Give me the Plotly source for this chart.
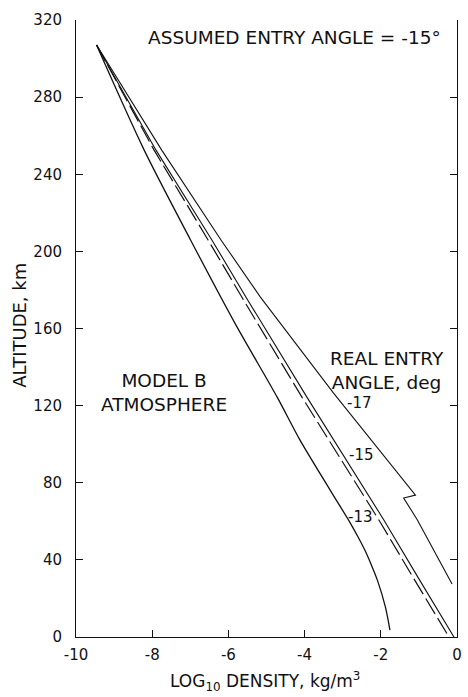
import plotly.graph_objects as go

# Density profiles recovered for different real entry angles (assumed angle = -15 deg)
alt_13 = [307, 252.5, 205.8, 162.8, 124.4, 102.1, 76.2, 59.1, 52, 45.1, 37, 29.5, 15.6, 3.6]
rho_13 = [-9.46, -8.21, -6.99, -5.83, -4.72, -4.12, -3.33, -2.80, -2.60, -2.42, -2.24,
          -2.09, -1.88, -1.76]

alt_15 = [307, 252.5, 205.8, 174.7, 124.4, 91.8, 60.7, 29.5, 0]
rho_15 = [-9.46, -7.90, -6.43, -5.49, -3.94, -2.90, -1.92, -0.98, -0.08]

alt_17 = [307, 252.5, 205.8, 176.3, 126.5, 73.6, 72.1, 60.7, 27.5]
rho_17 = [-9.46, -7.75, -6.19, -5.16, -3.24, -1.09, -1.40, -1.04, -0.13]

# Model B atmosphere (dashed reference profile)
alt_model = [307, 252.5, 205.8, 174.7, 124.4, 91.8, 60.7, 29.5, 0]
rho_model = [-9.46, -7.95, -6.53, -5.60, -4.07, -3.03, -2.05, -1.11, -0.21]

x_ticks = [-10, -8, -6, -4, -2, 0]
y_ticks = [0, 40, 80, 120, 160, 200, 240, 280, 320]

FONT = "DejaVu Sans"
INK = "#111111"

fig = go.Figure()
fig.add_trace(go.Scatter(x=rho_model, y=alt_model, mode="lines",
                         line=dict(color=INK, width=1.2, dash="18px,5px")))
fig.add_trace(go.Scatter(x=rho_13, y=alt_13, mode="lines",
                         line=dict(color=INK, width=1.3, shape="spline", smoothing=0.8)))
fig.add_trace(go.Scatter(x=rho_15, y=alt_15, mode="lines",
                         line=dict(color=INK, width=1.1)))
fig.add_trace(go.Scatter(x=rho_17, y=alt_17, mode="lines",
                         line=dict(color=INK, width=1.1)))

ann = [
    dict(x=-4.27, y=311, text="ASSUMED ENTRY ANGLE = -15°", size=18.5),
    dict(x=-7.68, y=127, text="MODEL B<br>ATMOSPHERE", size=18.5),
    dict(x=-1.84, y=138.3, text="REAL ENTRY<br>ANGLE, deg", size=18.5),
    dict(x=-2.56, y=121.3, text="-17", size=15),
    dict(x=-2.51, y=94.3, text="-15", size=15),
    dict(x=-2.54, y=62.2, text="-13", size=15),
]
for a in ann:
    fig.add_annotation(x=a["x"], y=a["y"], xref="x", yref="y", text=a["text"],
                       showarrow=False, xanchor="center", yanchor="middle",
                       font=dict(family=FONT, size=a["size"], color=INK))

fig.add_annotation(x=-0.1477, y=0.5057, xref="paper", yref="paper",
                   text="ALTITUDE, km", textangle=-90, showarrow=False,
                   xanchor="center", yanchor="middle",
                   font=dict(family=FONT, size=18, color=INK))
fig.add_annotation(x=0.495, y=-0.0729, xref="paper", yref="paper",
                   text="LOG<sub>10</sub> DENSITY, kg/m<sup>3</sup>", showarrow=False,
                   xanchor="center", yanchor="middle",
                   font=dict(family=FONT, size=17, color=INK))

fig.update_xaxes(range=[-10, 0], tickvals=x_ticks, ticktext=[str(v) for v in x_ticks],
                 showline=True, linecolor=INK, linewidth=1, mirror=False,
                 ticks="inside", ticklen=7, tickcolor=INK, tickwidth=1,
                 showgrid=False, zeroline=False, ticklabelstandoff=4,
                 tickfont=dict(family=FONT, size=15, color=INK))
fig.update_yaxes(range=[0, 320], tickvals=y_ticks, ticktext=[str(v) for v in y_ticks],
                 showline=True, linecolor=INK, linewidth=1, mirror="ticks",
                 ticks="inside", ticklen=7, tickcolor=INK, tickwidth=1,
                 showgrid=False, zeroline=False, ticklabelstandoff=10,
                 tickfont=dict(family=FONT, size=15, color=INK))

fig.update_layout(width=468, height=697, margin=dict(l=76, r=6, t=20, b=60),
                  paper_bgcolor="white", plot_bgcolor="white", showlegend=False)

fig.write_html("out.html")
